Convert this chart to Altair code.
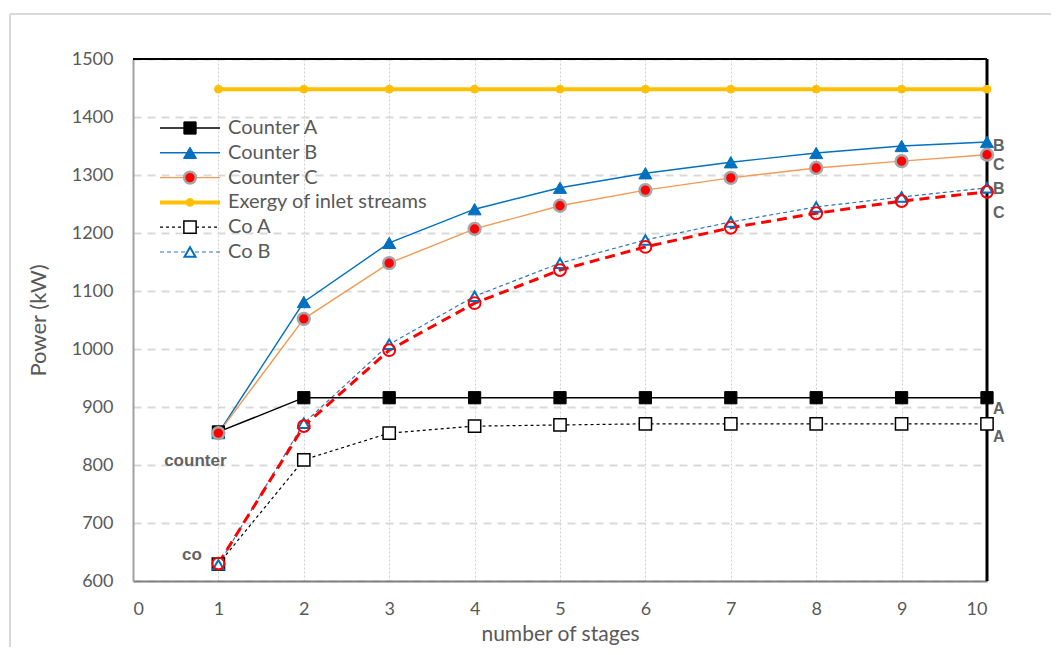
import altair as alt
import pandas as pd

# ---------------- data ----------------
stages = [1, 2, 3, 4, 5, 6, 7, 8, 9, 10]
counter_a = [857, 916, 916, 916, 916, 916, 916, 916, 916, 916]
counter_b = [855, 1081, 1183, 1241, 1278, 1303, 1322, 1338, 1350, 1357]
counter_c = [855, 1052, 1148, 1207, 1247, 1274, 1295, 1312, 1324, 1335]
exergy = [1448, 1448, 1448, 1448, 1448, 1448, 1448, 1448, 1448, 1448]
co_a = [629, 809, 855, 867, 869, 871, 871, 871, 871, 871]
co_b = [628, 872, 1008, 1091, 1148, 1188, 1219, 1245, 1262, 1278]
co_c = [630, 867, 998, 1079, 1136, 1176, 1209, 1234, 1255, 1271]

series_names = ["Counter A", "Counter B", "Counter C", "Exergy of inlet streams",
                "Co A", "Co B", "Co C"]
series_values = [counter_a, counter_b, counter_c, exergy, co_a, co_b, co_c]
legend_names = series_names[:6]

end_labels = ["B", "C", "B", "C", "A", "A"]
end_label_series = ["Counter B", "Counter C", "Co B", "Co C", "Counter A", "Co A"]
group_labels = ["counter", "co"]
group_label_x = [0.73, 0.69]
group_label_y = [807, 645]

x_ticks = list(range(0, 11))
y_ticks = list(range(600, 1501, 100))

# ---------------- styles ----------------
GRAY = "#595959"
FONT = "Lato"
ANN_FONT = "Liberation Sans"
styles = {
    "Counter A": dict(line="#000000", lw=1.4, dash=None, shape="square", fill="#000000",
                      stroke="#000000", sw=1, size=150),
    "Counter B": dict(line="#0070C0", lw=1.4, dash=None, shape="triangle-up", fill="#0070C0",
                      stroke="#0070C0", sw=1, size=170),
    "Counter C": dict(line="#F39A55", lw=1.4, dash=None, shape="circle", fill="#FF0000",
                      stroke="#A6A6A6", sw=2.5, size=140),
    "Exergy of inlet streams": dict(line="#FFC000", lw=4, dash=None, shape="circle",
                                    fill="#FFC000", stroke="#FFC000", sw=1, size=60),
    "Co A": dict(line="#000000", lw=1.2, dash=[3, 3], shape="square", fill="#FFFFFF",
                 stroke="#000000", sw=1.5, size=150),
    "Co B": dict(line="#2E75B6", lw=1.2, dash=[4, 3], shape="triangle-up", fill="#FFFFFF",
                 stroke="#0070C0", sw=2, size=120),
    "Co C": dict(line="#FF0000", lw=3, dash=[10, 6], shape="circle", fill="none",
                 stroke="#FF0000", sw=2, size=140),
}

rows = []
for name, vals in zip(series_names, series_values):
    for s, v in zip(stages, vals):
        rows.append({"series": name, "stage": s, "power": v})
df = pd.DataFrame(rows)

W, H = 854, 522

xscale = alt.Scale(domain=[0, 10], nice=False)
yscale = alt.Scale(domain=[600, 1500], nice=False, zero=False)

xenc = alt.X("stage:Q", scale=xscale,
             axis=alt.Axis(values=x_ticks, format="d", title="number of stages", grid=True,
                           gridDash=[2, 2], gridColor="#CFCFCF", gridWidth=1,
                           domainColor="#7F7F7F", domainWidth=2, ticks=False,
                           labelPadding=19, labelFontSize=18, labelColor=GRAY,
                           labelFont=FONT, titleFont=FONT, titleFontSize=21,
                           titleColor=GRAY, titleFontWeight="normal", titlePadding=5))
yenc = alt.Y("power:Q", scale=yscale,
             axis=alt.Axis(values=y_ticks, format="d", title="Power (kW)", grid=True,
                           gridDash=[8, 6], gridColor="#D9D9D9", gridWidth=2,
                           domainColor="#A0A0A0", domainWidth=2, ticks=False,
                           labelPadding=20, labelFontSize=18, labelColor=GRAY,
                           labelFont=FONT, titleFont=FONT, titleFontSize=22,
                           titleColor=GRAY, titleFontWeight="normal", titlePadding=21))

base = alt.Chart(df)
layers = []

# axes first (so grid is in the back)
layers.append(base.mark_line(opacity=0).encode(x=xenc, y=yenc))

# frame lines
frame_df = pd.DataFrame({"a": [0]})
layers.append(alt.Chart(frame_df).mark_rule(color="#000000", strokeWidth=2).encode(
    x=alt.datum(0), x2=alt.datum(10), y=alt.datum(1500)))
layers.append(alt.Chart(frame_df).mark_rule(color="#000000", strokeWidth=3).encode(
    x=alt.datum(10), y=alt.datum(600), y2=alt.datum(1500)))
# outer chart border
layers.append(alt.Chart(frame_df).mark_rule(color="#D9D9D9", strokeWidth=2).encode(
    x=alt.value(-123), y=alt.value(-45), y2=alt.value(H + 80)))
layers.append(alt.Chart(frame_df).mark_rule(color="#D9D9D9", strokeWidth=2).encode(
    x=alt.value(-123), x2=alt.value(W + 80), y=alt.value(-45)))

draw_order = ["Exergy of inlet streams", "Co A", "Co B", "Co C",
              "Counter A", "Counter B", "Counter C"]
for name in draw_order:
    st = styles[name]
    sub = base.transform_filter(alt.datum.series == name)
    lkw = dict(color=st["line"], strokeWidth=st["lw"])
    if st["dash"]:
        lkw["strokeDash"] = st["dash"]
    layers.append(sub.mark_line(**lkw).encode(x="stage:Q", y="power:Q"))
for name in draw_order:
    st = styles[name]
    sub = base.transform_filter(alt.datum.series == name)
    pkw = dict(shape=st["shape"], size=st["size"], stroke=st["stroke"],
               strokeWidth=st["sw"], opacity=1)
    if st["fill"] == "none":
        pkw["filled"] = False
        pkw["fillOpacity"] = 0
    else:
        pkw["filled"] = True
        pkw["fill"] = st["fill"]
    layers.append(sub.mark_point(**pkw).encode(x="stage:Q", y="power:Q"))

# end labels (A/B/C)
end_rows = []
dys = {"Counter B": 4, "Counter C": 10, "Co B": 1, "Co C": 21, "Counter A": 11, "Co A": 13}
for lab, ser in zip(end_labels, end_label_series):
    vals = series_values[series_names.index(ser)]
    end_rows.append({"label": lab, "stage": stages[-1], "power": vals[-1], "dy": dys[ser]})
end_df = pd.DataFrame(end_rows)
for _, r in end_df.iterrows():
    layers.append(alt.Chart(pd.DataFrame([r])).mark_text(
        font=ANN_FONT, fontSize=16, fontWeight="bold", color="#636363", align="left",
        baseline="middle", dx=6, dy=float(r["dy"])).encode(
        x="stage:Q", y="power:Q", text="label:N"))

# group labels
grp_df = pd.DataFrame({"label": group_labels, "stage": group_label_x, "power": group_label_y})
layers.append(alt.Chart(grp_df).mark_text(
    font=ANN_FONT, fontSize=17, fontWeight="bold", color="#636363", align="center",
    baseline="middle").encode(x="stage:Q", y="power:Q", text="label:N"))

# manual legend (inside plot, top-left)
leg_x0, leg_x1, leg_xm, leg_tx = 27, 87, 57, 95
leg_y0, leg_dy = 69, 24.8
for i, name in enumerate(legend_names):
    st = styles[name]
    yy = leg_y0 + i * leg_dy
    one = alt.Chart(frame_df)
    rkw = dict(color=st["line"], strokeWidth=st["lw"])
    if st["dash"]:
        rkw["strokeDash"] = st["dash"]
    layers.append(one.mark_rule(**rkw).encode(
        x=alt.value(leg_x0), x2=alt.value(leg_x1), y=alt.value(yy)))
    pkw = dict(shape=st["shape"], size=st["size"], stroke=st["stroke"],
               strokeWidth=st["sw"], opacity=1, filled=True, fill=st["fill"])
    if st["fill"] == "none":
        pkw["filled"] = False
        pkw.pop("fill")
    layers.append(one.mark_point(**pkw).encode(x=alt.value(leg_xm), y=alt.value(yy)))
    layers.append(one.mark_text(font=FONT, fontSize=20, color=GRAY, align="left",
                                baseline="middle").encode(
        x=alt.value(leg_tx), y=alt.value(yy), text=alt.value(name)))

chart = alt.layer(*layers).properties(
    width=W, height=H,
    autosize=alt.AutoSizeParams(type="none"),
    padding={"left": 125, "top": 51, "right": 64, "bottom": 66},
).configure_view(stroke=None).configure(background="white")

chart.save("out.html", embed_options={"renderer": "svg", "actions": False})
